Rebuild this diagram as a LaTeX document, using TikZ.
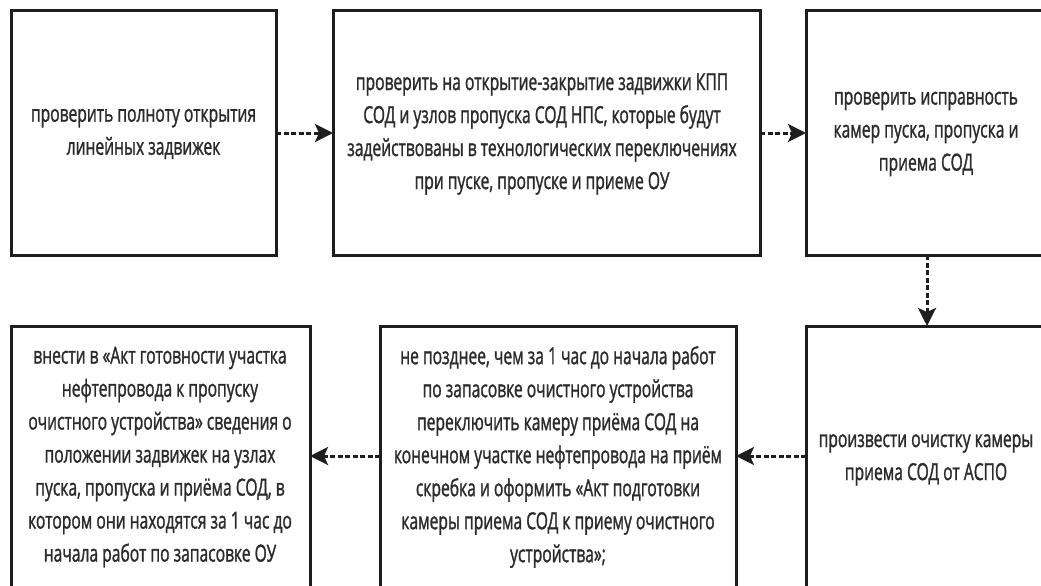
\documentclass[tikz,border=0pt]{standalone}
\usepackage{fontspec}
\setmainfont{Open Sans}[FakeStretch=0.665, FakeBold=1.2]
\usetikzlibrary{arrows.meta}
\definecolor{ink}{HTML}{1E1E1E}
\definecolor{txt}{HTML}{2B2B2B}
\tikzset{
  stepbox/.style={draw=ink, line width=3pt, fill=white},
  label/.style={text=txt, align=center, font=\fontsize{23.5}{33}\selectfont, inner sep=0pt},
  flow/.style={draw=ink, line width=3pt, dash pattern=on 5pt off 2.5pt,
    -{Stealth[length=18pt,width=18pt,inset=4pt]}}
}
\begin{document}
\begin{tikzpicture}[x=1pt,y=-1pt]
  \clip (0,0) rectangle (1041,586);
  \fill[white] (0,0) rectangle (1041,586);
  % upper row
  \draw[stepbox] (11,11) rectangle (276,255);
  \draw[stepbox] (333,11) rectangle (760,255);
  \draw[stepbox] (806,11) rectangle (1048,255);
  % lower row
  \draw[stepbox] (11,326) rectangle (310,594);
  \draw[stepbox] (380,326) rectangle (736,594);
  \draw[stepbox] (806,326) rectangle (1048,594);
  % anchors on the box edges
  \coordinate (b1r) at (276,133);
  \coordinate (b2l) at (333,133);
  \coordinate (b2r) at (760,133);
  \coordinate (b3l) at (806,133);
  \coordinate (b3b) at (927,255);
  \coordinate (b6t) at (927,326);
  \coordinate (b6l) at (806,456);
  \coordinate (b5r) at (736,456);
  \coordinate (b5l) at (380,456);
  \coordinate (b4r) at (310,456);
  % texts
  \node[label] (t1) at (143.5,134) {проверить полноту открытия\\линейных задвижек};
  \node[label] (t2) at (542,134) {проверить на открытие-закрытие задвижки КПП\\СОД и узлов пропуска СОД НПС, которые будут\\задействованы в технологических переключениях\\при пуске, пропуске и приеме ОУ};
  \node[label] (t3) at (926,134) {проверить исправность\\камер пуска, пропуска и\\приема СОД};
  \node[label] (t4) at (160,457) {внести в «Акт готовности участка\\нефтепровода к пропуску\\очистного устройства» сведения о\\положении задвижек на узлах\\пуска, пропуска и приёма СОД, в\\котором они находятся за 1 час до\\начала работ по запасовке ОУ};
  \node[label] (t5) at (558,457) {не позднее, чем за 1 час до начала работ\\по запасовке очистного устройства\\переключить камеру приёма СОД на\\конечном участке нефтепровода на приём\\скребка и оформить «Акт подготовки\\камеры приема СОД к приему очистного\\устройства»;};
  \node[label] (t6) at (926,460) {произвести очистку камеры\\приема СОД от АСПО};
  % connectors
  \draw[flow] (b1r) -- (b2l);
  \draw[flow] (b2r) -- (b3l);
  \draw[flow] (b3b) -- (b6t);
  \draw[flow] (b6l) -- (b5r);
  \draw[flow] (b5l) -- (b4r);
\end{tikzpicture}
\end{document}
